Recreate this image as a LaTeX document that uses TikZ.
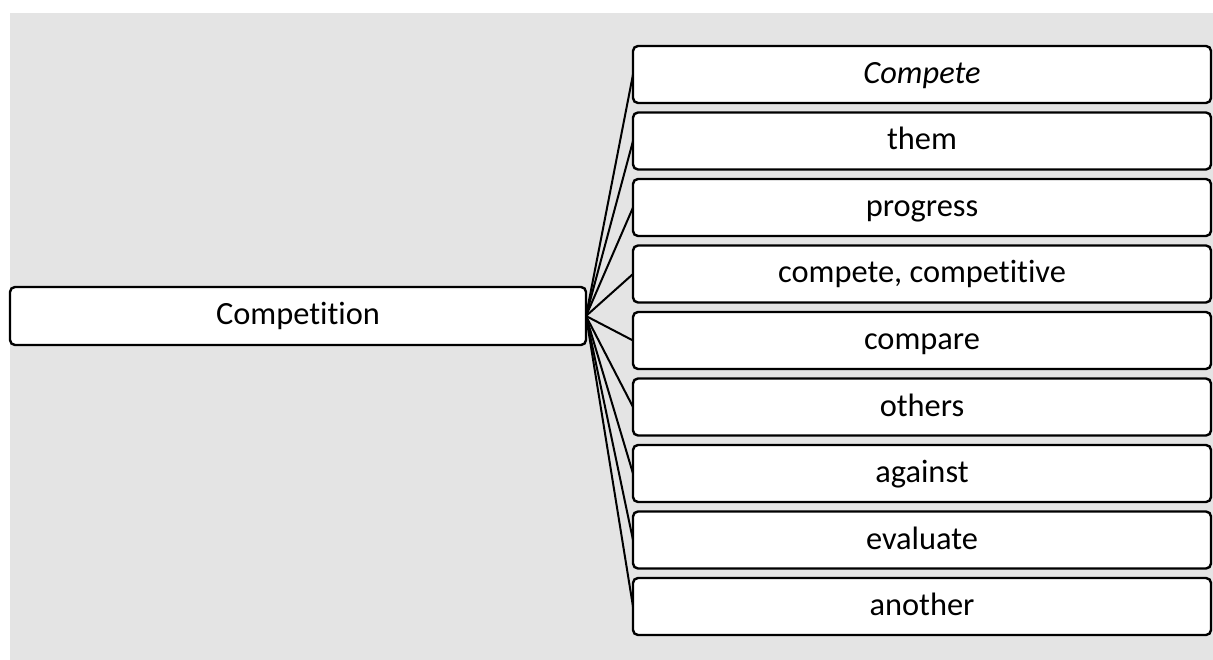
\documentclass[tikz,border=0pt]{standalone}
\usepackage{fontspec}
\setmainfont[Ligatures=NoCommon]{Carlito}
\begin{document}
\begin{tikzpicture}[x=1pt,y=-1pt,
  box/.style={draw=black,fill=white,line width=2.4pt,rounded corners=5pt,
    inner sep=0pt,outer sep=0pt,anchor=center,text height=26pt,text depth=8pt,
    font=\fontsize{32.4}{38}\selectfont},
  leftbox/.style={box,minimum width=576pt,minimum height=58pt},
  rightbox/.style={box,minimum width=578pt,minimum height=57pt},
  link/.style={draw=black,line width=2pt}]
\useasboundingbox (0,0) rectangle (1213,660);
\fill[fill={rgb,255:red,228;green,228;blue,228}] (10,13) rectangle (1213,660);
\node[leftbox] (L) at (298,316) {Competition};
\node[rightbox] (R1) at (922,74.5) {\textit{Compete}};
\node[rightbox] (R2) at (922,141) {them};
\node[rightbox] (R3) at (922,207.5) {progress};
\node[rightbox] (R4) at (922,274) {compete, competitive};
\node[rightbox] (R5) at (922,340.5) {compare};
\node[rightbox] (R6) at (922,407) {others};
\node[rightbox] (R7) at (922,473.5) {against};
\node[rightbox] (R8) at (922,540) {evaluate};
\node[rightbox] (R9) at (922,606.5) {another};
\foreach \i in {1,...,9}{
  \draw[link] (L.east) -- (R\i.west);
}
\end{tikzpicture}
\end{document}
